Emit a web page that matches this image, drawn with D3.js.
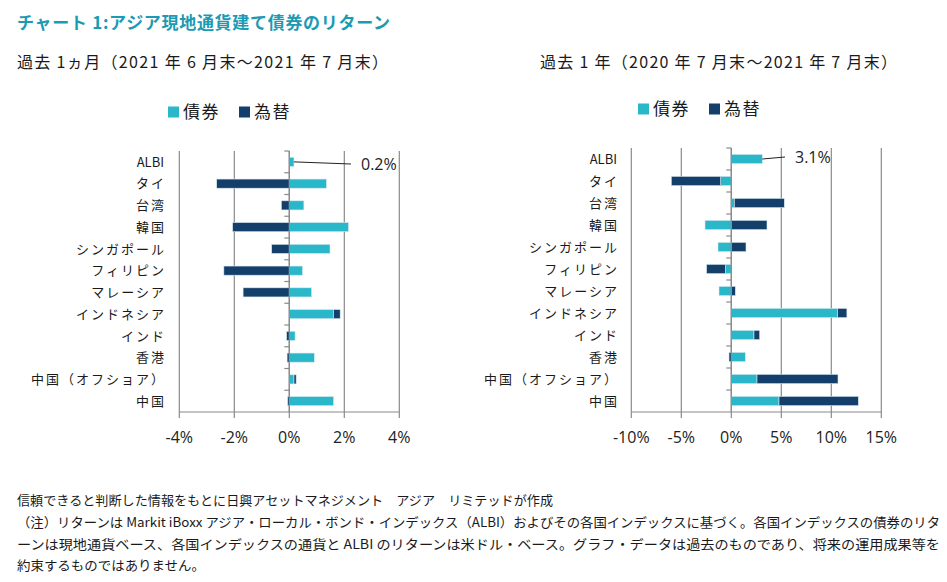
<!DOCTYPE html>
<html><head><meta charset="utf-8">
<script src="https://cdn.jsdelivr.net/npm/d3@7"></script>
<style>body{margin:0;background:#fff}</style></head>
<body>
<svg id="c" width="947" height="582"></svg>
<script>
const categories = ["ALBI","タイ","台湾","韓国","シンガポール","フィリピン","マレーシア","インドネシア","インド","香港","中国（オフショア）","中国"];
const seriesNames = ["債券","為替"];
// 過去1ヵ月
const monthBond = [0.17, 1.35, 0.53, 2.15, 1.48, 0.48, 0.81, 1.61, 0.21, 0.91, 0.17, 1.61];
const monthFx   = [0.0, -2.64, -0.29, -2.06, -0.64, -2.38, -1.68, 0.24, -0.10, -0.08, 0.08, -0.06];
// 過去1年
const yearBond = [3.1, -1.07, 0.30, -2.63, -1.33, -0.60, -1.23, 10.63, 2.27, 1.40, 2.57, 4.77];
const yearFx   = [0.0, -4.93, 5.00, 3.57, 1.47, -1.87, 0.40, 0.93, 0.57, -0.23, 8.10, 7.93];
const monthTicks = [-4,-2,0,2,4];
const yearTicks = [-10,-5,0,5,10,15];

const title = "チャート 1:アジア現地通貨建て債券のリターン";
const subLeft = "過去 1ヵ月（2021 年 6 月末～2021 年 7 月末）";
const subRight = "過去 1 年（2020 年 7 月末～2021 年 7 月末）";
const notes = [
 "信頼できると判断した情報をもとに日興アセットマネジメント　アジア　リミテッドが作成",
 "（注）リターンは Markit iBoxx アジア・ローカル・ボンド・インデックス（ALBI）およびその各国インデックスに基づく。各国インデックスの債券のリタ",
 "ーンは現地通貨ベース、各国インデックスの通貨と ALBI のリターンは米ドル・ベース。グラフ・データは過去のものであり、将来の運用成果等を",
 "約束するものではありません。"
];

const COLORS = ["#2ab7ca", "#143f6b"];
const GRID = "#8a8a8a";
const JP = "'Noto Sans CJK JP','Noto Sans',sans-serif";
const NUM = "'Open Sans','Noto Sans',sans-serif";

const svg = d3.select("#c");

svg.append("text").attr("x",17).attr("y",29).text(title)
  .attr("font-family",JP).attr("font-weight","bold").attr("font-size",17)
  .attr("fill","#1b9ab3").attr("textLength",373);

svg.append("text").attr("x",17).attr("y",68).text(subLeft)
  .attr("font-family",JP).attr("font-size",16).attr("fill","#1a1a1a").attr("textLength",371);
svg.append("text").attr("x",540).attr("y",68).text(subRight)
  .attr("font-family",JP).attr("font-size",16).attr("fill","#1a1a1a").attr("textLength",357);

function panel(cfg){
  const data = categories.map((c,i)=>({cat:c, bond:cfg.bond[i], fx:cfg.fx[i]}));
  const stack = d3.stack().keys(["bond","fx"]).offset(d3.stackOffsetDiverging)(data);
  const x = d3.scaleLinear().domain(d3.extent(cfg.ticks)).range(cfg.xRange);
  const y = d3.scaleBand().domain(categories).range(cfg.yRange).padding(0);
  const bw = y.bandwidth();
  const g = svg.append("g");

  // vertical grid
  g.selectAll(".grid").data(cfg.ticks).join("line")
    .attr("x1",d=>x(d)).attr("x2",d=>x(d))
    .attr("y1",cfg.yRange[0]).attr("y2",cfg.yRange[1])
    .attr("stroke",GRID).attr("stroke-width",1.2);

  // bars
  stack.forEach((s,si)=>{
    g.selectAll(".b"+si).data(s).join("rect")
      .attr("x",d=>x(Math.min(d[0],d[1])))
      .attr("width",d=>Math.abs(x(d[1])-x(d[0])))
      .attr("y",d=>y(d.data.cat)+bw*0.29)
      .attr("height",bw*0.42)
      .attr("fill",COLORS[si])
      .attr("stroke","#d6e8ee").attr("stroke-width",0.6);
  });

  // category axis on zero
  const x0 = x(0);
  g.append("line").attr("x1",x0).attr("x2",x0).attr("y1",cfg.yRange[0]).attr("y2",cfg.yRange[1])
    .attr("stroke",GRID).attr("stroke-width",1.2);
  const bounds = categories.map(c=>y(c));
  g.selectAll(".ct").data(bounds).join("line")
    .attr("x1",x0-5).attr("x2",x0).attr("y1",d=>d).attr("y2",d=>d)
    .attr("stroke",GRID).attr("stroke-width",1.2);

  // x axis
  const yb = cfg.yRange[1];
  g.append("line").attr("x1",cfg.xRange[0]).attr("x2",cfg.xRange[1]).attr("y1",yb).attr("y2",yb)
    .attr("stroke",GRID).attr("stroke-width",1.2);
  g.selectAll(".xt").data(cfg.ticks).join("line")
    .attr("x1",d=>x(d)).attr("x2",d=>x(d)).attr("y1",yb).attr("y2",yb+6)
    .attr("stroke",GRID).attr("stroke-width",1.2);
  g.selectAll(".xl").data(cfg.ticks).join("text")
    .attr("x",d=>x(d)).attr("y",yb+31).attr("text-anchor","middle")
    .attr("font-family",NUM).attr("font-size",16).attr("fill","#222")
    .text(d=>d+"%");

  // category labels
  const isLatin = d => /^[A-Z]+$/.test(d);
  g.selectAll(".cl").data(categories).join("text")
    .attr("x",d=> isLatin(d) ? cfg.labelX : cfg.labelX+2)
    .attr("y",d=>y(d)+bw/2+4.8)
    .attr("text-anchor","end")
    .attr("font-family",JP)
    .attr("font-size",13)
    .style("letter-spacing",d=>isLatin(d)?"0px":"2px")
    .attr("fill","#1a1a1a")
    .text(d=>d);

  // annotation for ALBI
  const a = data[0];
  const aEnd = d3.max(stack, s=>s[0][1]);
  const cy = y(a.cat)+bw/2;
  g.append("line").attr("x1",x(aEnd)).attr("y1",cy)
    .attr("x2",cfg.ann[0]).attr("y2",cfg.ann[1])
    .attr("stroke","#222").attr("stroke-width",1);
  g.append("text").attr("x",cfg.ann[0]+10).attr("y",cfg.ann[1]+5.5)
    .attr("font-family",NUM).attr("font-size",16).attr("fill","#222")
    .text((a.bond+a.fx).toFixed(1)+"%");

  // legend
  const lg = g.append("g").attr("transform",`translate(${cfg.legend[0]},${cfg.legend[1]})`);
  seriesNames.forEach((n,i)=>{
    const ox = i*71;
    lg.append("rect").attr("x",ox).attr("y",-5.5).attr("width",11).attr("height",11).attr("fill",COLORS[i]);
    lg.append("text").attr("x",ox+15).attr("y",6).text(n)
      .attr("font-family",JP).attr("font-size",17).style("letter-spacing","1.5px").attr("fill","#1a1a1a");
  });
}

panel({bond:monthBond, fx:monthFx, ticks:monthTicks, xRange:[179.3,399.3], yRange:[151,412],
  labelX:164, ann:[351,164], legend:[168,112]});
panel({bond:yearBond, fx:yearFx, ticks:yearTicks, xRange:[631.3,881.3], yRange:[148,412],
  labelX:617, ann:[785,157], legend:[638,109]});

const noteW = [536, 923, 923, 188];
notes.forEach((t,i)=>{
  svg.append("text").attr("x",17).attr("y",505+i*21.8).text(t)
    .attr("font-family",JP).attr("font-size",13).attr("fill","#1a1a1a")
    .attr("textLength",noteW[i]).attr("lengthAdjust","spacingAndGlyphs");
});
</script>
</body></html>
